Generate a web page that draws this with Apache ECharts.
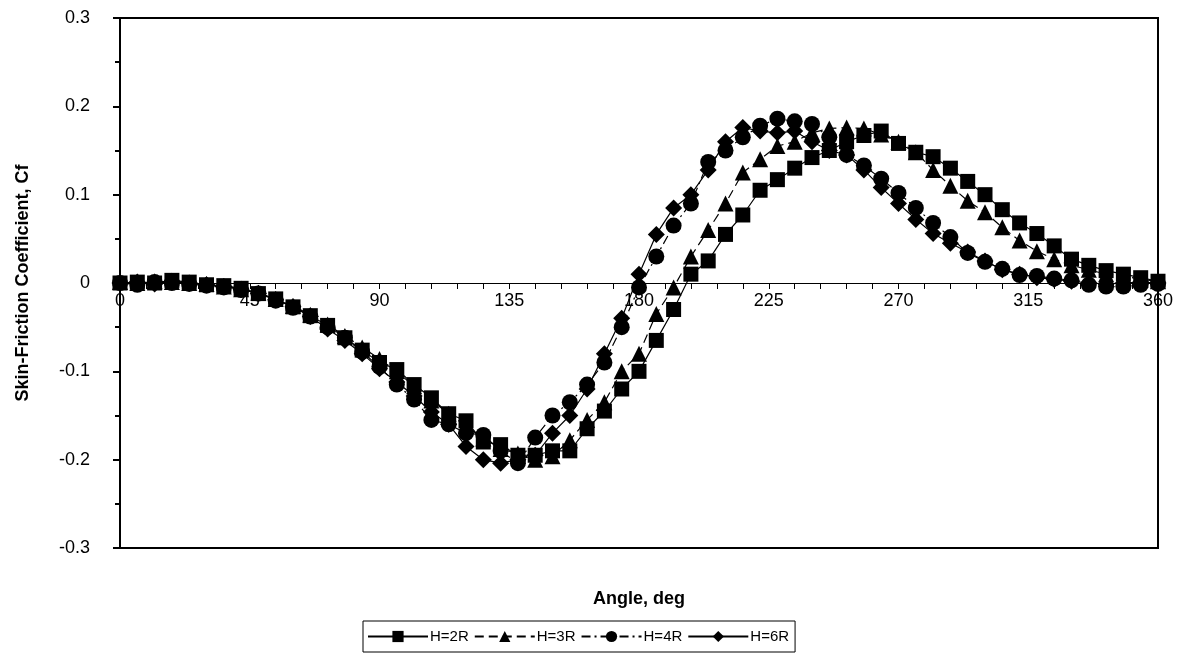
<!DOCTYPE html>
<html>
<head>
<meta charset="utf-8">
<script src="https://cdn.jsdelivr.net/npm/echarts@6/dist/echarts.min.js"></script>
<style>
  html, body { margin: 0; padding: 0; background: #fff; }
  #chart { width: 1195px; height: 663px; }
</style>
</head>
<body>
<div id="chart"></div>
<script>
// angle, deg
var angles = [0, 6, 12, 18, 24, 30, 36, 42, 48, 54, 60, 66, 72, 78, 84, 90, 96, 102, 108, 114,
  120, 126, 132, 138, 144, 150, 156, 162, 168, 174, 180, 186, 192, 198, 204, 210, 216, 222, 228, 234,
  240, 246, 252, 258, 264, 270, 276, 282, 288, 294, 300, 306, 312, 318, 324, 330, 336, 342, 348, 354, 360];

var cfH2R = [0.000, 0.001, 0.000, 0.003, 0.001, -0.002, -0.003, -0.006, -0.012, -0.018,
  -0.027, -0.037, -0.048, -0.062, -0.076, -0.090, -0.098, -0.115, -0.130, -0.148,
  -0.156, -0.180, -0.183, -0.195, -0.195, -0.190, -0.190, -0.165, -0.145, -0.120,
  -0.100, -0.065, -0.030, 0.010, 0.025, 0.055, 0.077, 0.105, 0.117, 0.130,
  0.142, 0.150, 0.160, 0.167, 0.172, 0.158, 0.148, 0.143, 0.130, 0.115,
  0.100, 0.083, 0.068, 0.056, 0.042, 0.027, 0.020, 0.014, 0.010, 0.006, 0.002];

var cfH3R = [0.001, 0.000, 0.002, 0.001, 0.000, -0.001, -0.004, -0.007, -0.011, -0.018,
  -0.026, -0.036, -0.047, -0.060, -0.073, -0.086, -0.100, -0.117, -0.133, -0.148,
  -0.162, -0.176, -0.188, -0.193, -0.200, -0.196, -0.178, -0.155, -0.135, -0.100,
  -0.080, -0.035, -0.005, 0.030, 0.060, 0.090, 0.125, 0.140, 0.155, 0.160,
  0.170, 0.175, 0.176, 0.175, 0.168, 0.160, 0.148, 0.128, 0.110, 0.093,
  0.080, 0.063, 0.048, 0.036, 0.027, 0.020, 0.015, 0.010, 0.008, 0.004, 0.002];

var cfH4R = [0.000, -0.002, 0.001, 0.000, -0.001, -0.003, -0.005, -0.008, -0.012, -0.020,
  -0.028, -0.038, -0.050, -0.062, -0.078, -0.095, -0.115, -0.132, -0.155, -0.160,
  -0.170, -0.172, -0.190, -0.204, -0.175, -0.150, -0.135, -0.115, -0.090, -0.050,
  -0.005, 0.030, 0.065, 0.090, 0.137, 0.150, 0.165, 0.178, 0.186, 0.183,
  0.180, 0.165, 0.145, 0.133, 0.118, 0.102, 0.085, 0.068, 0.052, 0.034,
  0.024, 0.016, 0.009, 0.008, 0.005, 0.003, -0.002, -0.004, -0.004, -0.002, -0.001];

var cfH6R = [0.000, 0.001, -0.001, 0.002, 0.000, -0.002, -0.004, -0.007, -0.012, -0.019,
  -0.027, -0.038, -0.052, -0.065, -0.080, -0.097, -0.112, -0.128, -0.146, -0.160,
  -0.185, -0.200, -0.204, -0.200, -0.195, -0.170, -0.150, -0.120, -0.080, -0.040,
  0.010, 0.055, 0.085, 0.100, 0.128, 0.160, 0.176, 0.172, 0.170, 0.172,
  0.160, 0.150, 0.145, 0.128, 0.108, 0.090, 0.072, 0.056, 0.045, 0.035,
  0.025, 0.015, 0.010, 0.006, 0.004, 0.002, 0.000, -0.001, 0.000, 0.001, 0.000];

var seriesNames = ["H=2R", "H=3R", "H=4R", "H=6R"];

function pairs(ys) {
  var out = [];
  for (var i = 0; i < angles.length; i++) { out.push([angles[i], ys[i]]); }
  return out;
}

function makeSeries(name, ys, symbol, size, dash) {
  return {
    name: name,
    type: "line",
    data: pairs(ys),
    symbol: symbol,
    symbolSize: size,
    showAllSymbol: true,
    itemStyle: { color: "#000" },
    lineStyle: { color: "#000", width: 1.2, type: dash },
    emphasis: { disabled: true }
  };
}

var font = "Liberation Sans, Arial, sans-serif";
var chart = echarts.init(document.getElementById("chart"));

chart.setOption({
  animation: false,
  backgroundColor: "#fff",
  textStyle: { fontFamily: font, color: "#000" },
  grid: {
    left: 120, right: 37, top: 18, bottom: 115,
    outerBoundsMode: "none",
    show: true, borderColor: "#000", borderWidth: 2, backgroundColor: "#fff"
  },
  legend: {
    data: seriesNames,
    left: 363, top: 621,
    itemWidth: 60, itemHeight: 14, itemGap: 5,
    padding: [8, 6, 8, 4],
    borderColor: "#000", borderWidth: 1,
    textStyle: { fontFamily: font, fontSize: 15, color: "#000", padding: [0, 0, 0, -3] }
  },
  xAxis: {
    type: "value",
    min: 0, max: 360, interval: 45,
    name: "Angle, deg",
    nameLocation: "middle",
    nameGap: 42,
    nameTextStyle: { fontFamily: font, fontSize: 18, fontWeight: "bold", color: "#000" },
    axisLine: { onZero: true, lineStyle: { color: "#000", width: 1 } },
    axisTick: { show: true, length: 6, lineStyle: { color: "#000" } },
    minorTick: { show: true, splitNumber: 5, length: 6, lineStyle: { color: "#000" } },
    // labels sit under the zero line, as in the source figure
    axisLabel: { fontFamily: font, fontSize: 18, color: "#000", margin: -256 },
    splitLine: { show: false }
  },
  yAxis: {
    type: "value",
    min: -0.3, max: 0.3, interval: 0.1,
    name: "Skin-Friction Coefficient, Cf",
    nameLocation: "middle",
    nameGap: 88,
    nameTextStyle: { fontFamily: font, fontSize: 18, fontWeight: "bold", color: "#000" },
    axisLine: { show: true, lineStyle: { color: "#000", width: 2 } },
    axisTick: { show: true, length: 7, lineStyle: { color: "#000", width: 2 } },
    minorTick: { show: true, splitNumber: 2, length: 5, lineStyle: { color: "#000", width: 2 } },
    axisLabel: { fontFamily: font, fontSize: 18, color: "#000", margin: 30,
      formatter: function(v) { return String(Math.round(v * 10) / 10); } },
    splitLine: { show: false }
  },
  series: [
    makeSeries("H=2R", cfH2R, "rect", 15, "solid"),
    makeSeries("H=3R", cfH3R, "triangle", 16, [9, 5]),
    makeSeries("H=4R", cfH4R, "circle", 16, [9, 4, 2, 4]),
    makeSeries("H=6R", cfH6R, "diamond", 17, "solid")
  ]
});
</script>
</body>
</html>
